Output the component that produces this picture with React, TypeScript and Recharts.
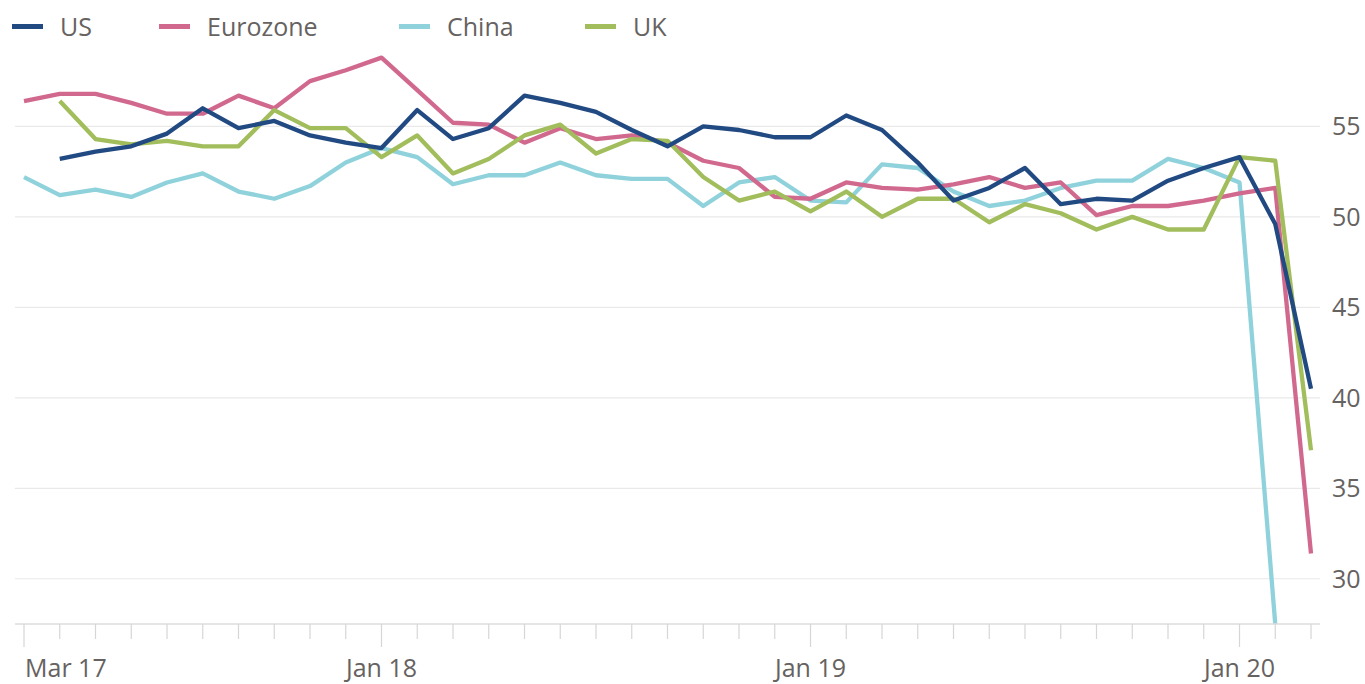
import React from 'react';
import { LineChart, Line, XAxis, YAxis, CartesianGrid, Legend } from 'recharts';

const months = [
  'Mar 17', 'Apr 17', 'May 17', 'Jun 17', 'Jul 17', 'Aug 17', 'Sep 17', 'Oct 17', 'Nov 17', 'Dec 17',
  'Jan 18', 'Feb 18', 'Mar 18', 'Apr 18', 'May 18', 'Jun 18', 'Jul 18', 'Aug 18', 'Sep 18', 'Oct 18', 'Nov 18', 'Dec 18',
  'Jan 19', 'Feb 19', 'Mar 19', 'Apr 19', 'May 19', 'Jun 19', 'Jul 19', 'Aug 19', 'Sep 19', 'Oct 19', 'Nov 19', 'Dec 19',
  'Jan 20', 'Feb 20', 'Mar 20',
];

const usValues = [
  null, 53.2, 53.6, 53.9, 54.6, 56.0, 54.9, 55.3, 54.5, 54.1,
  53.8, 55.9, 54.3, 54.9, 56.7, 56.3, 55.8, 54.8, 53.9, 55.0, 54.8, 54.4,
  54.4, 55.6, 54.8, 53.0, 50.9, 51.6, 52.7, 50.7, 51.0, 50.9, 52.0, 52.7,
  53.3, 49.6, 40.5,
];

const eurozoneValues = [
  56.4, 56.8, 56.8, 56.3, 55.7, 55.7, 56.7, 56.0, 57.5, 58.1,
  58.8, 57.0, 55.2, 55.1, 54.1, 54.9, 54.3, 54.5, 54.1, 53.1, 52.7, 51.1,
  51.0, 51.9, 51.6, 51.5, 51.8, 52.2, 51.6, 51.9, 50.1, 50.6, 50.6, 50.9,
  51.3, 51.6, 31.4,
];

const chinaValues = [
  52.2, 51.2, 51.5, 51.1, 51.9, 52.4, 51.4, 51.0, 51.7, 53.0,
  53.8, 53.3, 51.8, 52.3, 52.3, 53.0, 52.3, 52.1, 52.1, 50.6, 51.9, 52.2,
  50.9, 50.8, 52.9, 52.7, 51.4, 50.6, 50.9, 51.6, 52.0, 52.0, 53.2, 52.7,
  51.9, 27.5, null,
];

const ukValues = [
  null, 56.4, 54.3, 54.0, 54.2, 53.9, 53.9, 55.9, 54.9, 54.9,
  53.3, 54.5, 52.4, 53.2, 54.5, 55.1, 53.5, 54.3, 54.2, 52.2, 50.9, 51.4,
  50.3, 51.4, 50.0, 51.0, 51.0, 49.7, 50.7, 50.2, 49.3, 50.0, 49.3, 49.3,
  53.3, 53.1, 37.1,
];

const xTickLabels = ['Mar 17', 'Jan 18', 'Jan 19', 'Jan 20'];
const yTicks = [30, 35, 40, 45, 50, 55];

const series = [
  { key: 'us', name: 'US', color: '#224a82', values: usValues },
  { key: 'eurozone', name: 'Eurozone', color: '#d1698f', values: eurozoneValues },
  { key: 'china', name: 'China', color: '#8fd2dc', values: chinaValues },
  { key: 'uk', name: 'UK', color: '#a2bd5c', values: ukValues },
];

const drawOrder = ['china', 'eurozone', 'uk', 'us'];
const legendLeft = [12, 159, 399, 585];

const data = months.map((m, i) => {
  const row: any = { month: m };
  series.forEach((s) => {
    row[s.key] = s.values[i];
  });
  return row;
});

const FONT = '"Open Sans", sans-serif';
const TEXT = '#66625f';

const XTick = (props: any) => {
  const { x, y, payload, index } = props;
  const labeled = xTickLabels.includes(payload.value);
  const len = labeled ? 23 : 15;
  return (
    <g>
      <line x1={x} x2={x} y1={y} y2={y + len} stroke="#d6d6d6" strokeWidth={1.2} />
      {labeled && (
        <text
          x={index === 0 ? x + 1 : x}
          y={y + 53}
          textAnchor={index === 0 ? 'start' : 'middle'}
          fill={TEXT}
          fontSize={25}
          fontFamily={FONT}
        >
          {payload.value}
        </text>
      )}
    </g>
  );
};

const renderLegend = () => (
  <div style={{ position: 'relative', width: 1365, height: 54, fontFamily: FONT }}>
    {series.map((s, i) => (
      <div
        key={s.key}
        style={{
          position: 'absolute',
          left: legendLeft[i],
          top: 10,
          height: 32,
          display: 'flex',
          alignItems: 'center',
          whiteSpace: 'nowrap',
        }}
      >
        <span style={{ display: 'inline-block', width: 31, height: 5, background: s.color, marginRight: 17 }} />
        <span style={{ fontSize: 25, color: TEXT, lineHeight: '32px' }}>{s.name}</span>
      </div>
    ))}
  </div>
);

export default function App() {
  return (
    <div style={{ position: 'absolute', left: 0, top: 0, width: 1365, height: 684, background: '#fff', fontFamily: FONT }}>
      <LineChart width={1365} height={684} data={data} margin={{ top: 0, right: 0, left: 15, bottom: 0 }}>
        <Legend
          verticalAlign="top"
          align="left"
          content={renderLegend}
          wrapperStyle={{ top: 0, left: 0, width: 1365, height: 54 }}
        />
        <CartesianGrid vertical={false} horizontalValues={yTicks} stroke="#e9e9e9" strokeWidth={1.2} />
        <XAxis
          dataKey="month"
          interval={0}
          tick={<XTick />}
          tickLine={false}
          tickSize={0}
          tickMargin={0}
          axisLine={{ stroke: '#dcdcdc', strokeWidth: 1.5 }}
          height={60}
          padding={{ left: 9, right: 9 }}
        />
        <YAxis
          orientation="right"
          domain={[27.5, 59]}
          ticks={yTicks}
          axisLine={false}
          tickLine={false}
          tickSize={0}
          tickMargin={12}
          width={45}
          tick={{ fill: TEXT, fontSize: 25, fontFamily: FONT }}
        />
        {drawOrder.map((k) => {
          const s = series.find((x) => x.key === k)!;
          return (
            <Line
              key={s.key}
              type="linear"
              dataKey={s.key}
              name={s.name}
              stroke={s.color}
              strokeWidth={4.3}
              dot={false}
              activeDot={false}
              isAnimationActive={false}
              connectNulls={false}
              strokeLinejoin="round"
            />
          );
        })}
      </LineChart>
    </div>
  );
}
